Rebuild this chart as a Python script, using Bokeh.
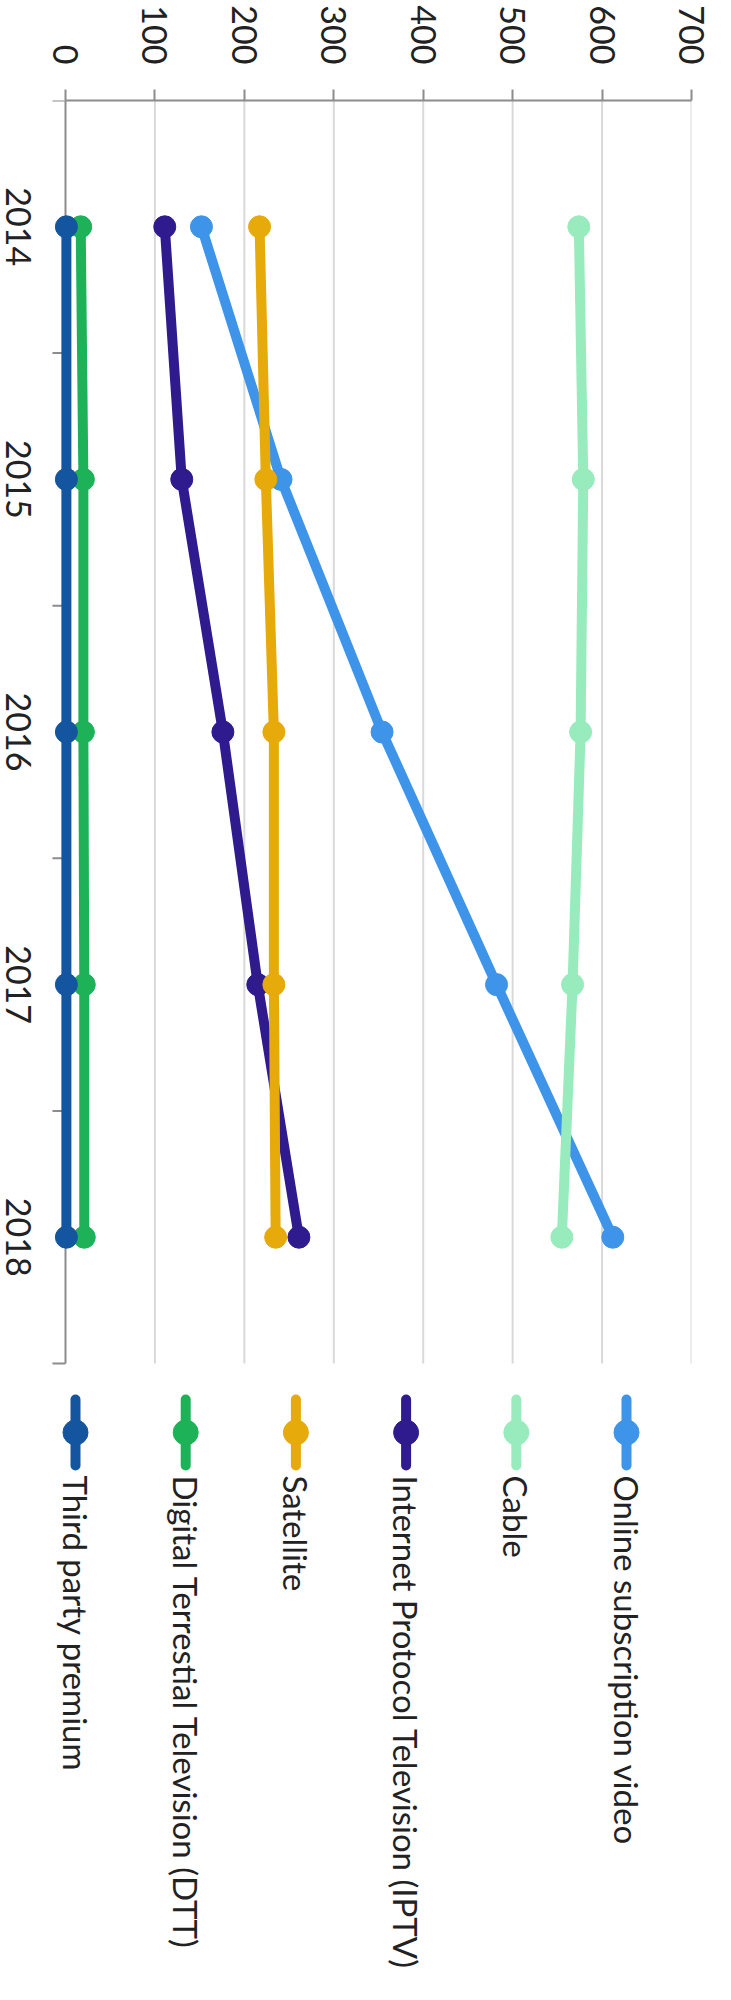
import math
from bokeh.plotting import figure
from bokeh.models import Range1d, LinearAxis, FixedTicker
from bokeh.embed import file_html
from bokeh.resources import INLINE
from bokeh.core.properties import value

# ---------------- data ----------------
years = [2014, 2015, 2016, 2017, 2018]
year_labels = ["2014", "2015", "2016", "2017", "2018"]
online_subscription_video = [152, 241, 354, 482, 612]
cable = [574, 579, 576, 567, 555]
iptv = [111, 130, 176, 215, 261]
satellite = [217, 224, 233, 233, 235]
dtt = [17, 20, 20, 21, 21]
third_party_premium = [1, 1, 1, 1, 1]

value_ticks = [0, 100, 200, 300, 400, 500, 600, 700]
year_boundaries = [2013.5, 2014.5, 2015.5, 2016.5, 2017.5, 2018.5]

series_names = ["Online subscription video", "Cable", "Internet Protocol Television (IPTV)",
                "Satellite", "Digital Terrestial Television (DTT)", "Third party premium"]
series_values = [online_subscription_video, cable, iptv, satellite, dtt, third_party_premium]
series_colors = ["#3d94e8", "#98ebbd", "#2f1a8e", "#e6aa0a", "#1db257", "#14559f"]

# legend order from left to right
legend_order = ["Third party premium", "Digital Terrestial Television (DTT)", "Satellite",
                "Internet Protocol Television (IPTV)", "Cable", "Online subscription video"]

# ---------------- layout ----------------
FONT = "Lato"
FS = "34px"
LEGEND_FS = "33px"
TEXT_COLOR = "#222222"
AXIS_COLOR = "#8c8c8c"
GRID_COLOR = "#d9d9d9"

W, H = 715, 1976
BL, BR, BT, BB = 0, 24, 100, 0
frame_w = W - BL - BR
frame_h = H - BT - BB
px_per_unit = 626 / 700.0          # 0..700 spans 626 px
px_per_year = 252.6
x_start = 700 - frame_w / px_per_unit
y_top = 2013.5
y_bottom = y_top + frame_h / px_per_year


def y_at(px):
    return y_top + px / px_per_year


def x_at(px_from_zero):
    return px_from_zero / px_per_unit


p = figure(width=W, height=H,
           x_range=Range1d(x_start, 700), y_range=Range1d(y_bottom, y_top),
           x_axis_location=None, y_axis_location=None,
           output_backend="svg", toolbar_location=None,
           min_border_left=BL, min_border_top=BT, min_border_right=BR, min_border_bottom=BB)
p.outline_line_color = None
for g in p.grid:
    g.visible = False
p.background_fill_color = "white"
p.border_fill_color = "white"

# top value axis
xaxis = LinearAxis(ticker=FixedTicker(ticks=value_ticks), bounds=(0, 700),
                   major_label_orientation=-math.pi / 2,
                   major_tick_out=11, major_tick_in=0, minor_tick_out=0, minor_tick_in=0,
                   axis_line_color=AXIS_COLOR, axis_line_width=2,
                   major_tick_line_color=AXIS_COLOR, major_tick_line_width=2,
                   major_label_text_font=FONT, major_label_text_font_size=FS,
                   major_label_text_color=TEXT_COLOR, major_label_standoff=25)
p.add_layout(xaxis, "above")

# vertical grid lines
grid_vals = value_ticks[1:]
p.segment(x0=grid_vals, y0=[year_boundaries[0]] * len(grid_vals),
          x1=grid_vals, y1=[year_boundaries[-1]] * len(grid_vals),
          line_color=GRID_COLOR, line_width=2)

# year axis (line at value 0, ticks at category boundaries)
p.segment(x0=[0], y0=[year_boundaries[0]], x1=[0], y1=[year_boundaries[-1]],
          line_color=AXIS_COLOR, line_width=2)
p.segment(x0=[x_at(-13)] * len(year_boundaries), y0=year_boundaries,
          x1=[0] * len(year_boundaries), y1=year_boundaries,
          line_color=AXIS_COLOR, line_width=2)
p.text(x=[x_at(-47)] * len(years), y=years, text=year_labels, angle=-math.pi / 2,
       text_align="center", text_baseline="middle",
       text_font=value(FONT), text_font_size=value(FS), text_color=TEXT_COLOR)

# series
for name, vals, col in zip(series_names, series_values, series_colors):
    p.line(x=vals, y=years, line_color=col, line_width=10, line_join="round")
    p.scatter(x=vals, y=years, size=22, fill_color=col, line_color=col)

# custom rotated legend below the plot
color_of = dict(zip(series_names, series_colors))
for i, name in enumerate(legend_order):
    lx = x_at(10 + i * 110.2)
    col = color_of[name]
    p.segment(x0=[lx], y0=[y_at(1299)], x1=[lx], y1=[y_at(1365)],
              line_color=col, line_width=10, line_cap="round")
    p.scatter(x=[lx], y=[y_at(1332)], size=25, fill_color=col, line_color=col)
    p.text(x=[lx], y=[y_at(1375)], text=[name], angle=-math.pi / 2,
           text_align="left", text_baseline="middle",
           text_font=value(FONT), text_font_size=value(LEGEND_FS), text_color=TEXT_COLOR)

open("out.html", "w").write(file_html(p, INLINE))
